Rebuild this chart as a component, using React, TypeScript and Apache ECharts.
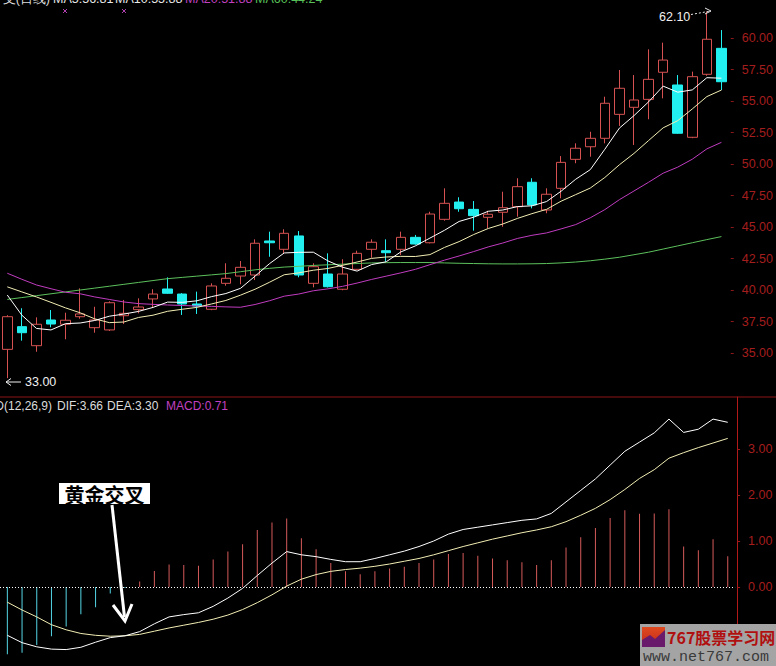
import React, { useEffect, useRef } from 'react';
import * as echarts from 'echarts';

const days = Array.from({ length: 50 }, (_, i) => String(i + 1));

const openP = [
  35.29, 37.09, 35.58, 37.62, 37.28, 37.88, 37.01, 36.83, 37.96, 38.44,
  39.29, 40.08, 39.68, 38.89, 38.47, 40.53, 41.11, 41.19, 43.89, 43.23,
  44.29, 40.53, 41.27, 40.06, 41.64, 43.23, 43.12, 43.23, 44.18, 43.75,
  45.61, 46.98, 46.40, 45.77, 46.17, 46.61, 48.55, 46.35, 48.07, 50.37,
  51.37, 52.04, 53.94, 54.50, 55.13, 57.28, 56.27, 52.12, 57.12, 59.18,
];
const closeP = [
  37.88, 36.61, 37.28, 37.30, 37.60, 38.10, 37.62, 38.99, 38.15, 38.65,
  39.68, 39.74, 38.89, 38.73, 40.32, 40.93, 41.80, 43.71, 43.75, 44.50,
  41.19, 41.85, 40.26, 41.27, 42.91, 43.79, 42.96, 44.18, 43.65, 46.03,
  46.88, 46.45, 45.90, 46.01, 46.53, 48.20, 46.75, 47.60, 50.13, 51.25,
  52.04, 54.82, 56.01, 55.08, 56.72, 58.25, 52.44, 56.93, 59.90, 56.53,
];
const lowP = [
  33.00, 35.98, 35.10, 37.04, 36.09, 37.72, 36.61, 36.75, 37.30, 38.15,
  38.63, 39.70, 38.02, 38.10, 38.40, 40.34, 40.45, 40.79, 42.64, 42.91,
  41.01, 40.21, 40.20, 39.98, 41.60, 42.56, 42.25, 42.78, 43.60, 43.70,
  45.50, 46.21, 44.71, 44.90, 45.02, 45.82, 46.48, 46.09, 47.28, 50.06,
  50.58, 51.64, 53.02, 51.51, 53.55, 55.21, 52.40, 52.05, 57.00, 55.87,
];
const highP = [
  38.00, 38.55, 37.83, 38.41, 38.20, 40.13, 38.67, 39.10, 39.21, 39.34,
  40.06, 41.00, 39.75, 39.87, 40.53, 42.12, 42.30, 44.02, 44.63, 44.82,
  44.68, 42.12, 42.91, 42.44, 43.12, 44.02, 44.02, 44.63, 44.37, 46.21,
  48.07, 47.36, 47.06, 46.29, 47.80, 48.87, 48.87, 48.07, 50.63, 51.64,
  52.56, 55.34, 57.46, 57.06, 59.10, 59.63, 57.06, 57.33, 62.10, 60.63,
];

const ma5 = [
  39.60, 38.00, 36.95, 36.83, 37.33, 37.38, 37.58, 37.92, 38.09, 38.30,
  38.62, 39.04, 39.02, 39.14, 39.47, 39.72, 40.13, 41.10, 42.10, 42.94,
  42.99, 43.00, 42.31, 41.81, 41.50, 42.02, 42.24, 43.02, 43.50, 44.12,
  44.74, 45.44, 45.78, 46.25, 46.35, 46.62, 46.68, 47.02, 47.84, 48.79,
  49.55, 51.17, 52.85, 53.84, 54.93, 56.18, 55.70, 55.88, 56.85, 56.81,
];
const ma10 = [
  40.25, 39.85, 39.45, 39.02, 38.58, 38.19, 37.71, 37.41, 37.46, 37.82,
  38.00, 38.31, 38.47, 38.62, 38.89, 39.17, 39.59, 40.06, 40.62, 41.21,
  41.36, 41.57, 41.71, 41.96, 42.22, 42.51, 42.62, 42.67, 42.66, 42.81,
  43.38, 43.84, 44.40, 44.88, 45.24, 45.68, 46.06, 46.40, 47.05, 47.57,
  48.09, 48.93, 49.94, 50.84, 51.86, 52.87, 53.44, 54.37, 55.35, 55.87,
];
const ma20 = [
  41.33, 40.85, 40.40, 40.10, 39.82, 39.70, 39.45, 39.25, 39.05, 38.92,
  38.86, 38.81, 38.77, 38.73, 38.70, 38.66, 38.63, 38.85, 39.15, 39.51,
  39.68, 39.94, 40.09, 40.29, 40.55, 40.84, 41.10, 41.36, 41.64, 42.01,
  42.37, 42.70, 43.05, 43.42, 43.73, 44.09, 44.34, 44.53, 44.85, 45.19,
  45.73, 46.38, 47.17, 47.86, 48.55, 49.27, 49.75, 50.38, 51.20, 51.72,
];
const ma60 = [
  39.25, 39.40, 39.55, 39.70, 39.85, 40.00, 40.15, 40.30, 40.45, 40.60,
  40.75, 40.90, 41.00, 41.10, 41.20, 41.30, 41.45, 41.60, 41.72, 41.82,
  41.88, 41.95, 42.00, 42.05, 42.10, 42.15, 42.17, 42.18, 42.18, 42.18,
  42.15, 42.12, 42.10, 42.08, 42.07, 42.07, 42.08, 42.10, 42.15, 42.22,
  42.32, 42.45, 42.60, 42.80, 43.00, 43.25, 43.50, 43.75, 44.00, 44.24,
];

const dif = [
  -1.05, -1.21, -1.30, -1.35, -1.36, -1.31, -1.20, -1.10, -1.06, -0.97,
  -0.80, -0.65, -0.60, -0.56, -0.42, -0.24, -0.03, 0.25, 0.52, 0.77,
  0.70, 0.66, 0.60, 0.55, 0.55, 0.62, 0.70, 0.78, 0.88, 1.00,
  1.15, 1.25, 1.30, 1.35, 1.40, 1.45, 1.48, 1.60, 1.85, 2.10,
  2.35, 2.65, 2.95, 3.15, 3.35, 3.65, 3.36, 3.43, 3.65, 3.58,
];
const dea = [
  -0.33, -0.50, -0.65, -0.82, -0.93, -1.01, -1.05, -1.07, -1.06, -1.03,
  -0.96, -0.89, -0.83, -0.77, -0.70, -0.61, -0.49, -0.34, -0.17, 0.02,
  0.17, 0.27, 0.34, 0.38, 0.41, 0.45, 0.50, 0.56, 0.62, 0.70,
  0.79, 0.88, 0.96, 1.04, 1.11, 1.18, 1.24, 1.31, 1.42, 1.56,
  1.71, 1.90, 2.12, 2.36, 2.55, 2.80, 2.92, 3.03, 3.13, 3.23,
];
const macd = [
  -1.46, -1.43, -1.26, -1.07, -0.86, -0.59, -0.44, -0.14, -0.02, 0.12,
  0.35, 0.49, 0.48, 0.46, 0.60, 0.77, 0.93, 1.24, 1.40, 1.49,
  1.06, 0.82, 0.52, 0.34, 0.28, 0.34, 0.40, 0.44, 0.52, 0.60,
  0.72, 0.74, 0.68, 0.62, 0.58, 0.54, 0.48, 0.58, 0.86, 1.08,
  1.28, 1.50, 1.67, 1.59, 1.60, 1.69, 0.88, 0.80, 1.04, 0.67,
];

const priceTicks = [35, 37.5, 40, 42.5, 45, 47.5, 50, 52.5, 55, 57.5, 60];
const macdTicks = [0, 1, 2, 3];

const FONT = '"Liberation Sans", Arial, sans-serif';

function txt(text: string, x: number, y: number, fill: string, opts: any = {}) {
  const align = opts.align || 'left';
  const valign = opts.valign || 'middle';
  return {
    type: 'text',
    x,
    y,
    silent: true,
    z: 100,
    style: {
      text,
      fill,
      font: opts.font || `12px ${FONT}`,
      align,
      textAlign: align,
      verticalAlign: valign,
      textVerticalAlign: valign,
    },
  };
}

function ln(x1: number, y1: number, x2: number, y2: number, stroke: string, lw = 1, dash?: number[]) {
  return {
    type: 'line',
    silent: true,
    z: 100,
    shape: { x1, y1, x2, y2 },
    style: { stroke, lineWidth: lw, lineDash: dash },
  };
}

function pl(points: number[][], stroke: string, lw = 1) {
  return {
    type: 'polyline',
    silent: true,
    z: 100,
    shape: { points },
    style: { stroke, lineWidth: lw, fill: null },
  };
}

export default function App() {
  const ref = useRef<HTMLDivElement>(null);
  useEffect(() => {
    const chart = echarts.init(ref.current!, null, { renderer: 'svg' });
    const candles = days.map((_, i) => [openP[i], closeP[i], lowP[i], highP[i]]);
    const lineS = (data: number[], color: string, xi = 0) => ({
      type: 'line',
      xAxisIndex: xi,
      yAxisIndex: xi,
      data,
      symbol: 'none',
      silent: true,
      lineStyle: { color, width: 1 },
      itemStyle: { color },
    });

    const graphic: any[] = [
      ln(0, 397, 776, 397, '#8c1414', 1),
      // top header (cut at the top edge as in the reference)
      txt('支(日线)', 50, 5, '#dcdcdc', { align: 'right', valign: 'bottom', font: `12.5px ${FONT}` }),
      txt('MA5:56.81', 53, 5, '#e8e8e8', { valign: 'bottom', font: `12.5px ${FONT}` }),
      txt('MA10:55.88', 115, 5, '#e8e8e8', { valign: 'bottom', font: `12.5px ${FONT}` }),
      txt('MA20:51.88', 185, 5, '#c040c0', { valign: 'bottom', font: `12.5px ${FONT}` }),
      txt('MA60:44.24', 255, 5, '#58c058', { valign: 'bottom', font: `12.5px ${FONT}` }),
      ln(63, 9, 67, 13, '#b040b0'), ln(67, 9, 63, 13, '#b040b0'),
      ln(122, 9, 126, 13, '#b040b0'), ln(126, 9, 122, 13, '#b040b0'),
      // MACD header
      txt('MACD(12,26,9)', 52, 406, '#dcdcdc', { align: 'right' }),
      txt('DIF:3.66', 57, 406, '#dcdcdc'),
      txt('DEA:3.30', 107, 406, '#dcdcdc'),
      txt('MACD:0.71', 166, 406, '#c040c0'),
      // high annotation
      txt('62.10', 659, 17, '#f0f0f0', { font: `12.5px ${FONT}` }),
      ln(691, 14.5, 711, 11, '#e8e8e8', 1, [2, 2]),
      pl([[705, 8], [711, 11], [705, 14]], '#e8e8e8', 1),
      // low annotation
      ln(6, 382, 21, 382, '#f0f0f0', 1),
      pl([[11, 378.5], [6, 382], [11, 385.5]], '#f0f0f0', 1),
      txt('33.00', 25, 382, '#f0f0f0', { font: `12.5px ${FONT}` }),
      // golden cross label
      {
        type: 'rect', silent: true, z: 100,
        shape: { x: 59, y: 483, width: 91, height: 21 },
        style: { fill: '#ffffff' },
      },
      txt('黄金交叉', 104.5, 494, '#000000', {
        align: 'center',
        font: 'bold 20px "Noto Sans CJK SC", sans-serif',
      }),
      ln(112, 505, 124.5, 617, '#ffffff', 3),
      pl([[113, 605], [125, 621], [132, 604]], '#ffffff', 3),
      // watermark
      {
        type: 'rect', silent: true, z: 100,
        shape: { x: 640, y: 624, width: 136, height: 42 },
        style: { fill: '#a4a4a4' },
      },
      {
        type: 'rect', silent: true, z: 101,
        shape: { x: 642, y: 627, width: 23, height: 20 },
        style: {
          fill: new echarts.graphic.LinearGradient(0, 0, 0, 1, [
            { offset: 0, color: '#e04a20' },
            { offset: 1, color: '#c02818' },
          ]),
        },
      },
      {
        type: 'polygon', silent: true, z: 102,
        shape: { points: [[642, 647], [642, 640], [650, 635], [655, 639], [665, 630], [665, 647]] },
        style: { fill: '#6a1a6a' },
      },
      txt('767股票学习网', 667, 637, '#b01010', {
        font: 'bold 16px "Noto Sans CJK SC", sans-serif',
      }),
      txt('www.net767.com', 643, 657, '#3a3a3a', {
        font: '15px "Liberation Mono", "DejaVu Sans Mono", monospace',
      }),
    ];

    const option: any = {
      backgroundColor: '#000000',
      animation: false,
      grid: [
        { left: -2.4, width: 737.5, top: 0, height: 392 },
        { left: -2.4, width: 737.5, top: 397, height: 269 },
      ],
      xAxis: [
        { type: 'category', gridIndex: 0, data: days, show: false, boundaryGap: true },
        { type: 'category', gridIndex: 1, data: days, show: false, boundaryGap: true },
      ],
      yAxis: [
        {
          type: 'value', gridIndex: 0, position: 'right', offset: 2,
          min: 31.905, max: 63.016, scale: true,
          splitLine: { show: false },
          axisLine: { show: false },
          axisTick: { show: true, length: 3, customValues: priceTicks, lineStyle: { color: '#8a1818' } },
          axisLabel: {
            customValues: priceTicks,
            formatter: (v: number) => v.toFixed(2),
            color: '#a41e1e', fontSize: 12.5, fontFamily: 'Liberation Sans', margin: 11,
          },
        },
        {
          type: 'value', gridIndex: 1, position: 'right', offset: 2,
          min: -1.717, max: 4.13, scale: true,
          splitLine: { show: false },
          axisLine: { show: true, lineStyle: { color: '#b21a1a', width: 1 } },
          axisTick: { show: true, length: 3, customValues: macdTicks, lineStyle: { color: '#a01818' } },
          axisLabel: {
            customValues: macdTicks,
            formatter: (v: number) => v.toFixed(2),
            color: '#a41e1e', fontSize: 12.5, fontFamily: 'Liberation Sans', margin: 11,
          },
        },
      ],
      series: [
        {
          type: 'candlestick', xAxisIndex: 0, yAxisIndex: 0, data: candles, barWidth: 10, silent: true,
          itemStyle: {
            color: '#000000', color0: '#22f0f0',
            borderColor: '#d65252', borderColor0: '#22f0f0', borderWidth: 1,
          },
        },
        lineS(ma60, '#5cc05c'),
        lineS(ma20, '#c03cc0'),
        lineS(ma10, '#f2eeb4'),
        lineS(ma5, '#ffffff'),
        {
          type: 'bar', xAxisIndex: 1, yAxisIndex: 1, barWidth: 1, silent: true,
          data: macd.map((v) => ({ value: v, itemStyle: { color: v >= 0 ? '#d65a5a' : '#54d6e6' } })),
          markLine: {
            silent: true, symbol: 'none', label: { show: false },
            lineStyle: { color: '#ffffff', type: [1, 2], width: 1 },
            data: [{ yAxis: 0 }],
          },
        },
        lineS(dea, '#f2eeb4', 1),
        lineS(dif, '#ffffff', 1),
      ],
      graphic,
    };
    chart.setOption(option);
    return () => chart.dispose();
  }, []);
  return (
    <div
      ref={ref}
      style={{ position: 'absolute', left: 0, top: 0, width: 776, height: 666, background: '#000' }}
    />
  );
}
